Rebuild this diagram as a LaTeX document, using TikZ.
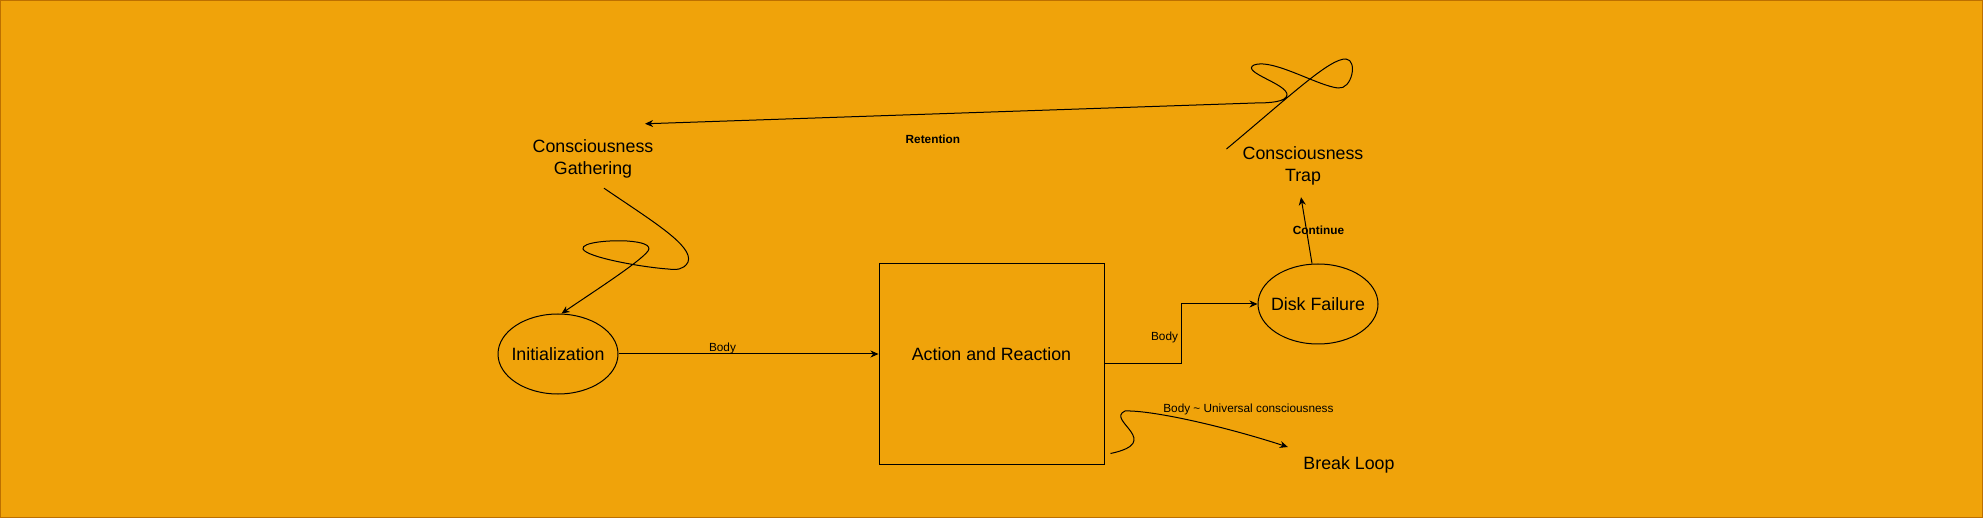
\documentclass[tikz,border=0pt]{standalone}
\usepackage{fontspec}
\setmainfont{Liberation Sans}
\usepackage{tikz}
\usetikzlibrary{arrows.meta,positioning,calc,shapes.geometric}
\usepackage{xcolor}
\definecolor{bgorange}{HTML}{F0A30A}
\definecolor{rimorange}{HTML}{BD7000}
\tikzset{
  plaintext/.style={align=center, inner sep=0pt, minimum width=120pt, minimum height=66pt, font=\fontsize{17.8}{22}\selectfont},
  oval/.style={ellipse, draw=black, line width=1pt, inner xsep=-8pt, inner ysep=0pt, minimum width=120pt, minimum height=80pt, font=\fontsize{17.8}{22}\selectfont},
  bigbox/.style={draw=black, line width=1pt, minimum width=225pt, minimum height=200pt},
  lbl/.style={inner sep=1pt, font=\fontsize{11.8}{14}\selectfont},
  boldlbl/.style={lbl, font=\fontsize{11.8}{14}\selectfont\bfseries},
  arrow/.style={-{Stealth[length=8pt,width=7pt,inset=2.5pt]}, line width=1pt},
  plainline/.style={line width=1pt}
}

\begin{document}
\begin{tikzpicture}[x=1pt, y=-1pt]
\useasboundingbox (0,0) rectangle (1983,518);
\draw[fill=bgorange, draw=rimorange, line width=1pt] (0.5,0.5) rectangle (1982.5,517.5);
\node[plaintext] (gather) at (593,159) {Consciousness\\Gathering};
\node[plaintext] (trap) at (1303,166) {Consciousness\\Trap};
\node[oval] (init) at (558,354) {Initialization};
\node[bigbox, label={[font=\fontsize{17.8}{22}\selectfont, yshift=10pt]center:Action and Reaction}] (action) at (991.5,364) {};
\node[oval] (disk) at (1318,304) {Disk Failure};
\node[plaintext] (brk) at (1349,465) {Break Loop};
\draw[arrow] (init.east) -- node[lbl, pos=0.4, yshift=6pt] {Body} (init.east -| action.west);
\draw[arrow] (action.east) -- ++(77,0) |- node[lbl, pos=0.22, left=2pt] {Body} (disk.west);
\draw[arrow] ($(disk.north)+(-6,0)$) -- node[boldlbl, pos=0.5, xshift=12pt] {Continue} ($(trap.south)+(-2,-2)$);
\draw[arrow] ($(gather.south)+(11,-4)$) .. controls (652,221) and (694,246) .. (688,262)
  .. controls (684,270) and (676,270) .. (668,269)
  .. controls (640,267) and (586,257) .. (583,249)
  .. controls (581,242) and (612,240) .. (627,241)
  .. controls (642,242) and (652,245) .. (648,251)
  .. controls (640,262) and (590,294) .. (init.85);
\draw[arrow] ($(trap.west)+(-16,-17)$) .. controls (1290,96) and (1330,58) .. (1346,59)
  .. controls (1358,60) and (1352,90) .. (1338,88)
  .. controls (1318,86) and (1272,58) .. (1254,65)
  .. controls (1240,72) and (1288,84) .. (1287,95)
  .. controls (1286,102) and (1270,103) .. (1255,103)
  -- node[boldlbl, pos=0.528, yshift=-25pt] {Retention} ($(gather.north)+(52,-2)$);
\draw[arrow] ($(action.south east)+(6,-11)$) .. controls (1165,442) and (1105,420) .. (1125,411)
  .. controls (1150,410) and (1220,425) .. node[lbl, pos=0.6, xshift=40pt, yshift=15pt] {Body \textasciitilde{} Universal consciousness} ($(brk.west)+(-1,-18)$);
\end{tikzpicture}
\end{document}
